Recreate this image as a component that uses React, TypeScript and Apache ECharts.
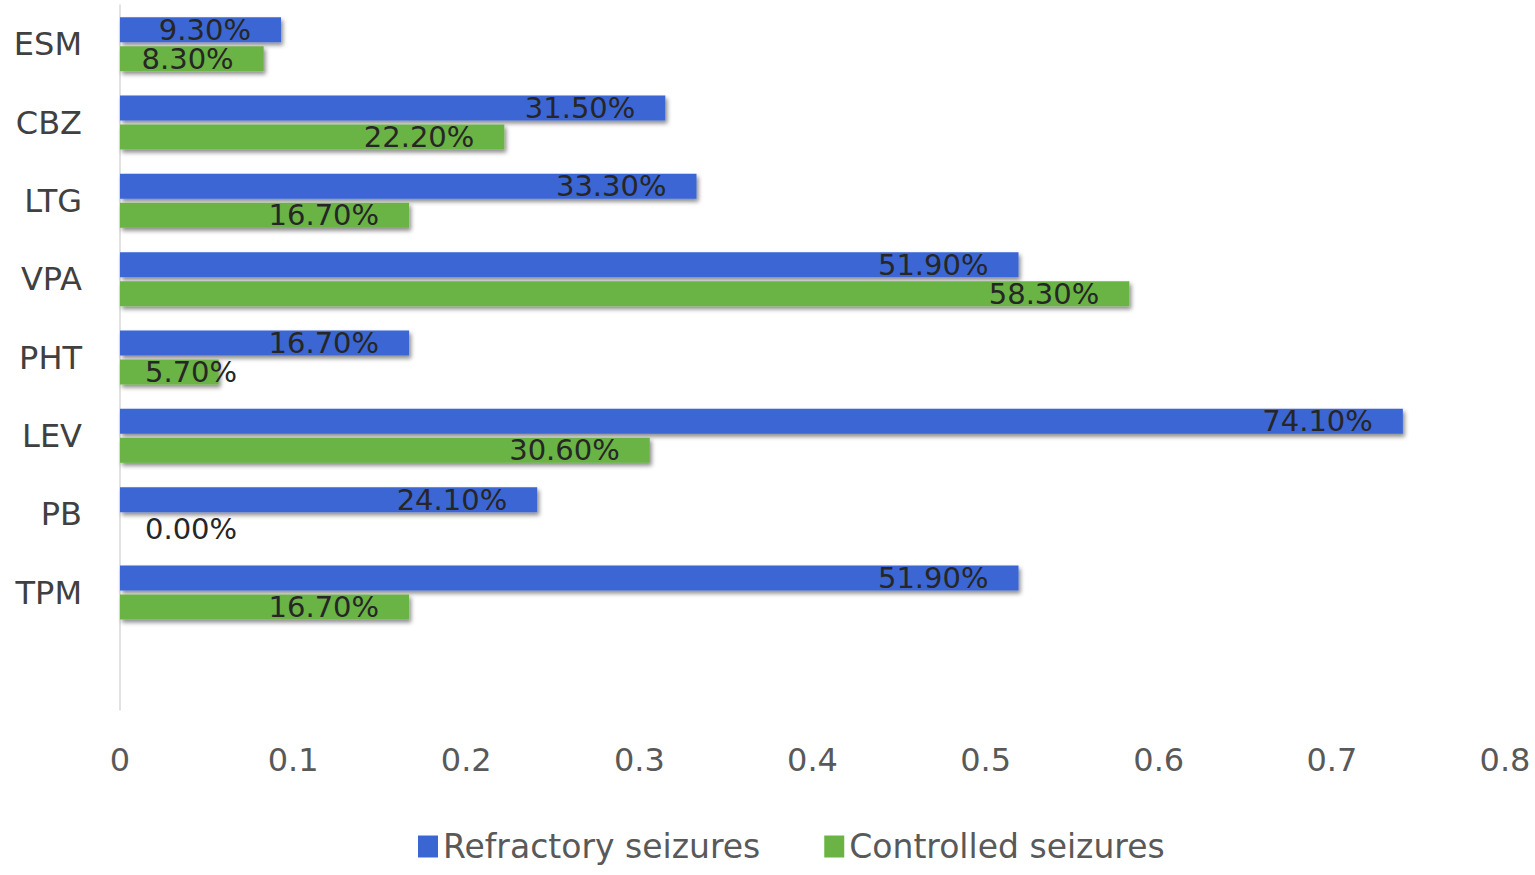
import React, { useEffect, useRef } from "react";
import * as echarts from "echarts";

const categories = ["ESM", "CBZ", "LTG", "VPA", "PHT", "LEV", "PB", "TPM", ""];
const refractory = [0.093, 0.315, 0.333, 0.519, 0.167, 0.741, 0.241, 0.519, null];
const controlled = [0.083, 0.222, 0.167, 0.583, 0.057, 0.306, 0.0, 0.167, null];
const xTicks = [0, 0.1, 0.2, 0.3, 0.4, 0.5, 0.6, 0.7, 0.8];
const seriesNames = ["Refractory seizures", "Controlled seizures"];

const FONT = "'DejaVu Sans', 'Noto Sans', sans-serif";

function toItems(values: (number | null)[]) {
  return values.map((v) => {
    if (v === null) return null;
    const small = v < 0.07;
    return {
      value: v,
      label: small
        ? { position: "insideLeft", distance: 25 }
        : { position: "insideRight", distance: 30 },
    };
  });
}

export default function App() {
  const ref = useRef<HTMLDivElement>(null);
  useEffect(() => {
    if (!ref.current) return;
    const chart = echarts.init(ref.current, undefined, { renderer: "svg" });
    const label = {
      show: true,
      color: "#262626",
      fontFamily: FONT,
      fontSize: 29,
      lineHeight: 24,
      formatter: (p: any) => (p.value * 100).toFixed(2) + "%",
    };
    const shadow = {
      shadowColor: "rgba(0,0,0,0.45)",
      shadowBlur: 4,
      shadowOffsetX: 2,
      shadowOffsetY: 3,
    };
    chart.setOption({
      animation: false,
      backgroundColor: "#ffffff",
      grid: { left: 120, right: 30, top: 5, bottom: 165 },
      legend: {
        data: seriesNames,
        bottom: 7,
        left: 413,
        itemWidth: 20,
        itemHeight: 22,
        itemGap: 64,
        icon: "rect",
        textStyle: { fontFamily: FONT, fontSize: 33, color: "#595959" },
      },
      xAxis: {
        type: "value",
        min: 0,
        max: 0.8,
        interval: 0.1,
        axisLine: { show: false },
        axisTick: { show: false },
        splitLine: { show: false },
        axisLabel: {
          margin: 34,
          fontFamily: FONT,
          fontSize: 32,
          color: "#595959",
          formatter: (v: number) => {
            const t = xTicks.find((x) => Math.abs(x - v) < 1e-9);
            return t === undefined ? "" : String(t);
          },
        },
      },
      yAxis: {
        type: "category",
        data: categories,
        inverse: true,
        axisLine: { show: true, lineStyle: { color: "#d9d9d9", width: 1.5 } },
        axisTick: { show: false },
        axisLabel: {
          margin: 38,
          fontFamily: FONT,
          fontSize: 32,
          color: "#404040",
        },
      },
      series: [
        {
          name: seriesNames[0],
          type: "bar",
          data: toItems(refractory),
          barWidth: 25,
          barGap: "16%",
          itemStyle: { color: "#3a66d4", ...shadow },
          label,
        },
        {
          name: seriesNames[1],
          type: "bar",
          data: toItems(controlled),
          barWidth: 25,
          barGap: "16%",
          itemStyle: { color: "#6ab344", ...shadow },
          label,
        },
      ],
    });
    return () => chart.dispose();
  }, []);
  return (
    <div
      ref={ref}
      style={{ position: "absolute", left: 0, top: 0, width: 1535, height: 875 }}
    />
  );
}
